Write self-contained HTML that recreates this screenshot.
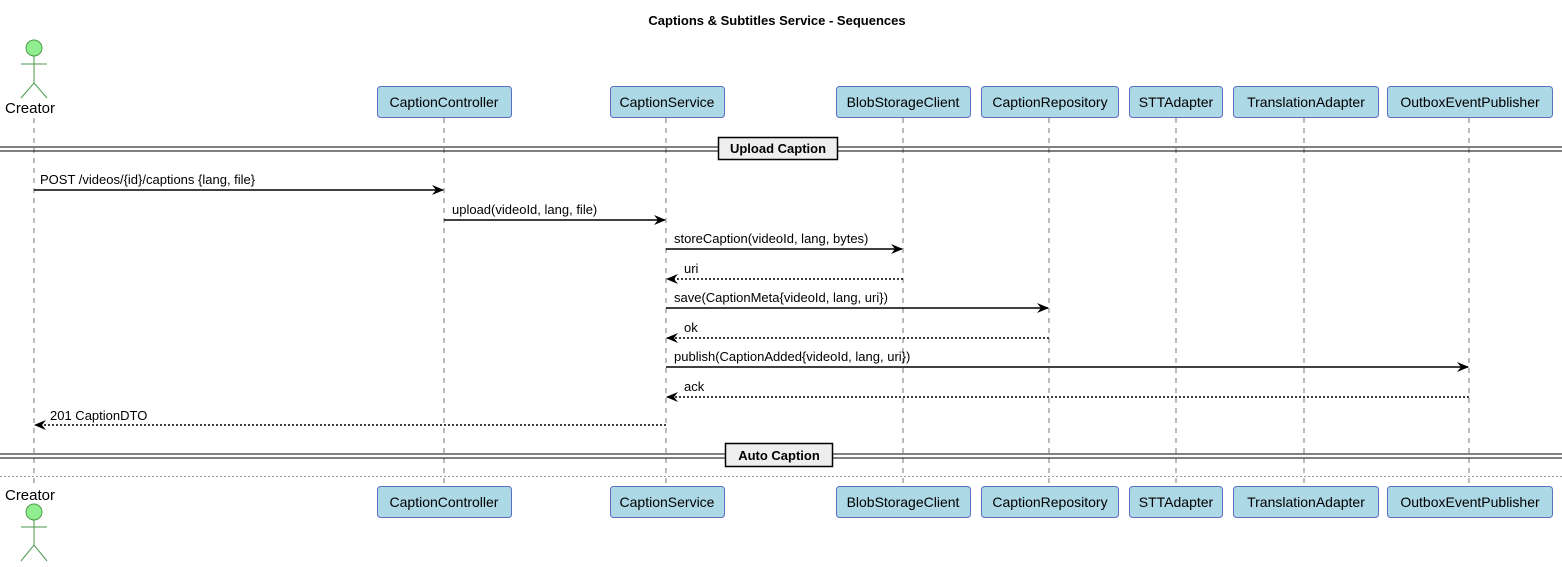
<!DOCTYPE html>
<html><head><meta charset="utf-8"><style>body{margin:0;background:#fff}svg{display:block}text{font-family:"Liberation Sans",sans-serif;font-size:13px;fill:#000}</style></head><body>
<svg width="1562" height="567" viewBox="0 0 1562 567" xmlns="http://www.w3.org/2000/svg">
<defs>
<marker id="a" viewBox="0 0 12 10" refX="11" refY="5" markerWidth="12" markerHeight="10" markerUnits="userSpaceOnUse" orient="auto"><path d="M0,0 L12,5 L0,10 L4,5 Z" fill="#000"/></marker>
</defs>
<text x="777" y="25" text-anchor="middle" font-weight="bold" style="font-size:13px">Captions &amp; Subtitles Service - Sequences</text>
<g stroke="#777" stroke-dasharray="5,5" stroke-width="1">
<line x1="34" y1="118" x2="34" y2="486"/><line x1="444" y1="118" x2="444" y2="486"/><line x1="666" y1="118" x2="666" y2="486"/><line x1="903" y1="118" x2="903" y2="486"/><line x1="1049" y1="118" x2="1049" y2="486"/><line x1="1176" y1="118" x2="1176" y2="486"/><line x1="1304" y1="118" x2="1304" y2="486"/><line x1="1469" y1="118" x2="1469" y2="486"/>
</g>
<g fill="#add8e6" stroke="#5a6fc0" stroke-width="1">
<rect x="377.5" y="86.5" width="134" height="31" rx="3"/><rect x="610.5" y="86.5" width="114" height="31" rx="3"/><rect x="836.5" y="86.5" width="134" height="31" rx="3"/><rect x="981.5" y="86.5" width="137" height="31" rx="3"/><rect x="1129.5" y="86.5" width="93" height="31" rx="3"/><rect x="1233.5" y="86.5" width="145" height="31" rx="3"/><rect x="1387.5" y="86.5" width="165" height="31" rx="3"/>
<rect x="377.5" y="486.5" width="134" height="31" rx="3"/><rect x="610.5" y="486.5" width="114" height="31" rx="3"/><rect x="836.5" y="486.5" width="134" height="31" rx="3"/><rect x="981.5" y="486.5" width="137" height="31" rx="3"/><rect x="1129.5" y="486.5" width="93" height="31" rx="3"/><rect x="1233.5" y="486.5" width="145" height="31" rx="3"/><rect x="1387.5" y="486.5" width="165" height="31" rx="3"/>
</g>
<g text-anchor="middle" style="font-size:14px">
<text x="444" y="107" style="font-size:14px">CaptionController</text><text x="667" y="107" style="font-size:14px">CaptionService</text><text x="903" y="107" style="font-size:14px">BlobStorageClient</text><text x="1050" y="107" style="font-size:14px">CaptionRepository</text><text x="1176" y="107" style="font-size:14px">STTAdapter</text><text x="1306" y="107" style="font-size:14px">TranslationAdapter</text><text x="1470" y="107" style="font-size:14px">OutboxEventPublisher</text>
<text x="444" y="507" style="font-size:14px">CaptionController</text><text x="667" y="507" style="font-size:14px">CaptionService</text><text x="903" y="507" style="font-size:14px">BlobStorageClient</text><text x="1050" y="507" style="font-size:14px">CaptionRepository</text><text x="1176" y="507" style="font-size:14px">STTAdapter</text><text x="1306" y="507" style="font-size:14px">TranslationAdapter</text><text x="1470" y="507" style="font-size:14px">OutboxEventPublisher</text>
<text x="30" y="113" style="font-size:15px">Creator</text><text x="30" y="500" style="font-size:15px">Creator</text>
</g>
<g stroke="#4a9a4a" fill="none" stroke-width="1">
<circle cx="34" cy="48" r="8" fill="#90ee90"/><line x1="21" y1="64" x2="47" y2="64"/><line x1="34" y1="56" x2="34" y2="83"/><path d="M21,98 L34,83 L47,98"/>
<circle cx="34" cy="512" r="8" fill="#90ee90"/><line x1="21" y1="527" x2="47" y2="527"/><line x1="34" y1="520" x2="34" y2="545"/><path d="M21,561 L34,545 L47,561"/>
</g>
<g stroke="#000" stroke-width="1">
<line x1="0" y1="147" x2="1562" y2="147"/><line x1="0" y1="151" x2="1562" y2="151"/>
<line x1="0" y1="454" x2="1562" y2="454"/><line x1="0" y1="458" x2="1562" y2="458"/>
</g>
<line x1="0" y1="476.5" x2="1562" y2="476.5" stroke="#999" stroke-dasharray="2,2"/>
<rect x="718.5" y="137.5" width="119" height="22" fill="#eee" stroke="#000" stroke-width="1.5"/>
<text x="778" y="153" text-anchor="middle" font-weight="bold">Upload Caption</text>
<rect x="725.5" y="443.5" width="107" height="23" fill="#eee" stroke="#000" stroke-width="1.5"/>
<text x="779" y="460" text-anchor="middle" font-weight="bold">Auto Caption</text>
<g stroke="#000" stroke-width="1.5" fill="none">
<line x1="34" y1="190" x2="443" y2="190" marker-end="url(#a)"/>
<line x1="444" y1="220" x2="665" y2="220" marker-end="url(#a)"/>
<line x1="666" y1="249" x2="902" y2="249" marker-end="url(#a)"/>
<line x1="903" y1="279" x2="667" y2="279" marker-end="url(#a)" stroke-dasharray="2,2"/>
<line x1="666" y1="308" x2="1048" y2="308" marker-end="url(#a)"/>
<line x1="1049" y1="338" x2="667" y2="338" marker-end="url(#a)" stroke-dasharray="2,2"/>
<line x1="666" y1="367" x2="1468" y2="367" marker-end="url(#a)"/>
<line x1="1469" y1="397" x2="667" y2="397" marker-end="url(#a)" stroke-dasharray="2,2"/>
<line x1="666" y1="425" x2="35" y2="425" marker-end="url(#a)" stroke-dasharray="2,2"/>
</g>
<text x="40" y="184">POST /videos/{id}/captions {lang, file}</text>
<text x="452" y="214">upload(videoId, lang, file)</text>
<text x="674" y="243">storeCaption(videoId, lang, bytes)</text>
<text x="684" y="273">uri</text>
<text x="674" y="302">save(CaptionMeta{videoId, lang, uri})</text>
<text x="684" y="332">ok</text>
<text x="674" y="361">publish(CaptionAdded{videoId, lang, uri})</text>
<text x="684" y="391">ack</text>
<text x="50" y="420">201 CaptionDTO</text>
</svg>
</body></html>
